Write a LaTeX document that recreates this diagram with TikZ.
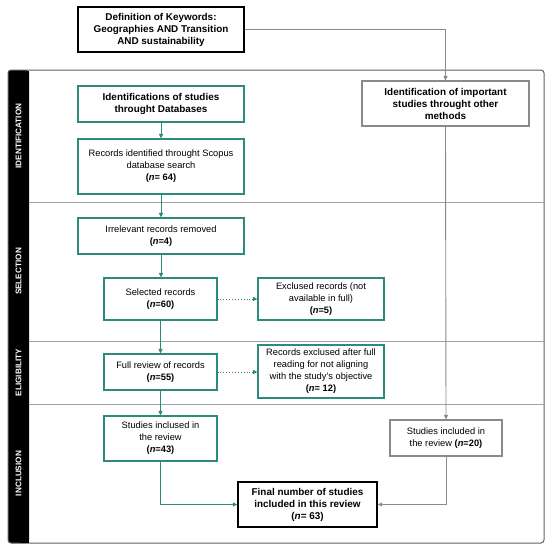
\documentclass[tikz,border=0pt]{standalone}
\usepackage{fontspec}
\setmainfont{Liberation Sans}
\usetikzlibrary{arrows.meta,calc}
\definecolor{teal1}{HTML}{2E8B7B}
\definecolor{gray1}{HTML}{8A8A8A}
\definecolor{frame1}{HTML}{606060}
\begin{document}
\begin{tikzpicture}[x=1pt,y=-1pt,
  every node/.style={font=\fontsize{9.3}{12}\selectfont, align=center, inner sep=0pt},
  boldtext/.style={font=\bfseries\fontsize{9.9}{12}\selectfont},
  tealbox/.style={draw=teal1, line width=1.1pt, fill=white},
  graybox/.style={draw=gray1, line width=1.1pt, fill=white},
  blackbox/.style={draw=black, line width=1.3pt, fill=white},
  tealline/.style={draw=teal1, line width=0.9pt, -{Triangle[length=4.5pt,width=4pt]}},
  grayline/.style={draw=gray1, line width=0.9pt, -{Triangle[length=4.5pt,width=4pt]}},
  dotline/.style={draw=teal1, line width=0.9pt, dotted, -{Triangle[length=4.5pt,width=4pt]}},
  seclabel/.style={text=white, font=\bfseries\fontsize{8.2}{9}\selectfont, rotate=90},
  divider/.style={draw=gray1!80, line width=1pt}
]
\useasboundingbox (0,0) rectangle (550,551);
% frame
\fill[black, rounded corners=3pt] (8,70) rectangle (29,543);
\draw[frame1, line width=1pt, rounded corners=3pt] (8,70) rectangle (544,543);
\fill[black] (20,70.5) rectangle (29,542.5);
\draw[divider] (29,202) -- (544,202);
\draw[divider] (29,341) -- (544,341);
\draw[divider] (29,404) -- (544,404);
\node[seclabel] (s1) at (18.5,136) {IDENTIFICATION};
\node[seclabel] (s2) at (18.5,271.5) {SELECTION};
\node[seclabel] (s3) at (18.5,372.5) {ELIGIBILITY};
\node[seclabel] (s4) at (18.5,473.5) {INCLUSION};
% nodes
\node[blackbox, boldtext, minimum width=166pt, minimum height=45pt] (kw) at (161,29.5) {Definition of Keywords:\\Geographies AND Transition\\AND sustainability};
\node[tealbox, boldtext, minimum width=166pt, minimum height=36pt] (db) at (161,104) {Identifications of studies\\throught Databases};
\node[tealbox, minimum width=166pt, minimum height=55pt] (rec) at (161,166.5) {Records identified throught Scopus\\database search\\\textbf{(\textit{n}= 64)}};
\node[graybox, boldtext, minimum width=167pt, minimum height=45pt] (imp) at (445.5,103.5) {Identification of important\\studies throught other\\methods};
\node[tealbox, minimum width=166pt, minimum height=36pt] (irr) at (161,236) {Irrelevant records removed\\\textbf{(\textit{n}=4)}};
\node[tealbox, minimum width=113pt, minimum height=42pt] (sel) at (160.5,299) {Selected records\\\textbf{(\textit{n}=60)}};
\node[tealbox, minimum width=126pt, minimum height=42pt] (exc) at (321,299) {Exclused records (not\\available in full)\\\textbf{(\textit{n}=5)}};
\node[tealbox, minimum width=113pt, minimum height=36pt] (full) at (160.5,372) {Full review of records\\\textbf{(\textit{n}=55)}};
\node[tealbox, minimum width=126pt, minimum height=53pt] (exc2) at (321,371.5) {Records exclused after full\\reading for not aligning\\with the study's objective\\\textbf{(\textit{n}= 12)}};
\node[tealbox, minimum width=113pt, minimum height=45pt] (inc) at (160.5,438.5) {Studies inclused in\\the review\\\textbf{(\textit{n}=43)}};
\node[graybox, minimum width=112pt, minimum height=36pt] (inc2) at (446,438) {Studies included in\\the review \textbf{(\textit{n}=20)}};
\node[blackbox, boldtext, minimum width=139pt, minimum height=45pt] (fin) at (307.5,504.5) {Final number of studies\\included in this review\\(\textit{n}= 63)};
% connectors
\draw[grayline] (kw.east) -| (imp.north);
\draw[tealline] (db.south) -- (rec.north);
\draw[tealline] (rec.south) -- (irr.north);
\draw[tealline] (irr.south) -- (irr.south |- sel.north);
\draw[tealline] (sel.south) -- (full.north);
\draw[tealline] (full.south) -- (inc.north);
\draw[dotline] (sel.east) -- (exc.west);
\draw[dotline] (full.east) -- (full.east -| exc2.west);
\draw[grayline] (imp.south) -- (inc2.north);
\draw[tealline] (inc.south) |- (fin.west);
\draw[grayline] (inc2.south) |- (fin.east);
\end{tikzpicture}
\end{document}
